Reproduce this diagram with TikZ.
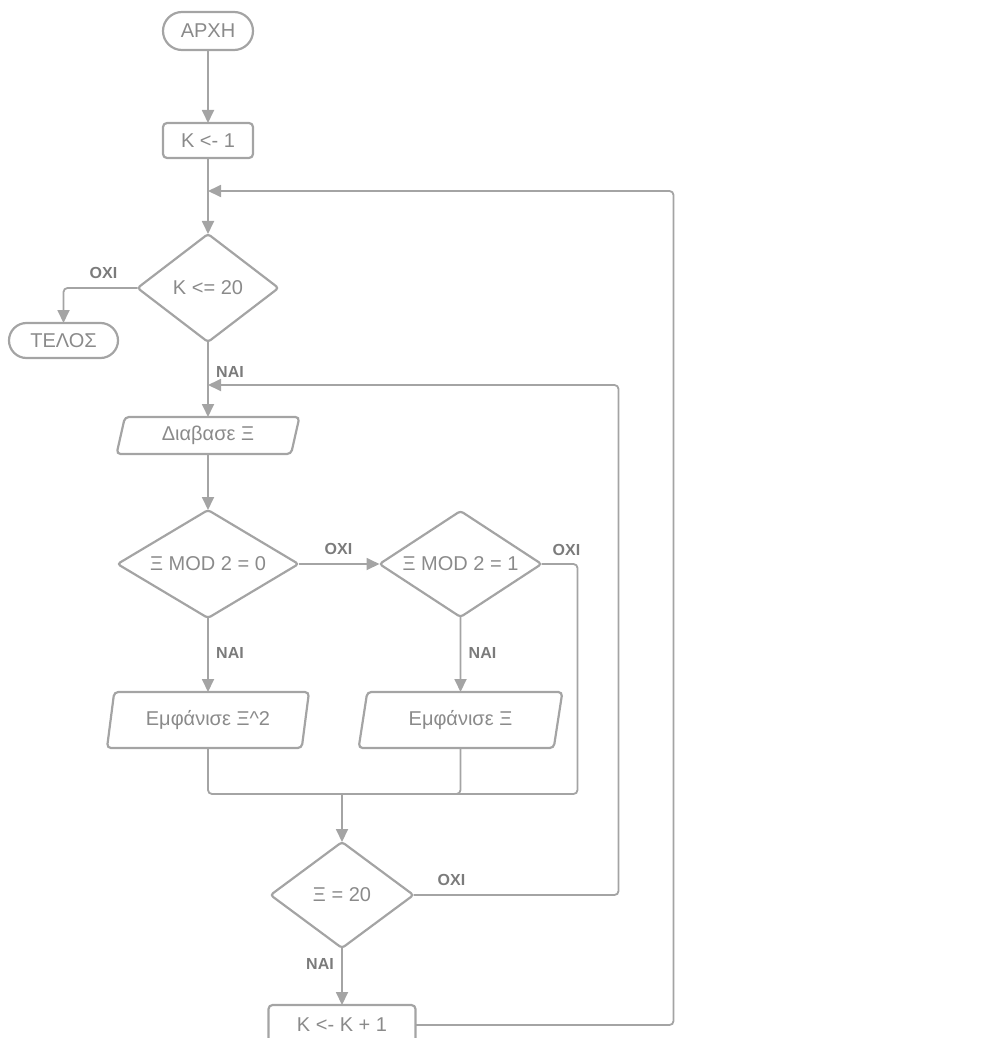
\documentclass[tikz,border=0pt]{standalone}
\usepackage{fontspec}
\setsansfont{Liberation Sans}
\usetikzlibrary{arrows.meta, positioning, shapes.geometric, shapes.misc}
\definecolor{flowline}{HTML}{A4A4A4}
\definecolor{flowtext}{HTML}{8A8A8A}
\definecolor{flowlabel}{HTML}{7B7B7B}

\begin{document}
\begin{tikzpicture}[
  font=\sffamily\fontsize{20}{24}\selectfont,
  every node/.style={align=center, text=flowtext},
  shapeline/.style={draw=flowline, line width=2.2pt, outer sep=0pt},
  terminal/.style={shapeline, rounded rectangle, minimum height=38pt, inner sep=0pt},
  block/.style={shapeline, rectangle, rounded corners=4pt, minimum height=35pt, inner sep=0pt},
  decision/.style={shapeline, diamond, aspect=1.7, rounded corners=3pt, inner sep=0pt},
  io/.style={shapeline, trapezium, trapezium left angle=76, trapezium right angle=104,
             trapezium stretches=true, rounded corners=4pt, inner sep=0pt},
  flowarrow/.style={draw=flowline, line width=1.8pt, rounded corners=4pt,
                    -{Triangle[length=13pt, width=12pt]}},
  link/.style={draw=flowline, line width=1.8pt, rounded corners=4pt},
  answer/.style={font=\sffamily\bfseries\fontsize{16}{19}\selectfont, text=flowlabel, inner sep=0pt},
]
\useasboundingbox (0,0) rectangle (989pt,-1038pt);

% start and counter
\node [terminal, minimum width=90pt] (start) at (208pt,-31pt) {ΑΡΧΗ};
\node [block, minimum width=90pt] (init) [below=73pt of start] {K <- 1};
\node [decision, minimum width=141pt, minimum height=108pt] (check) [below=76pt of init] {K <= 20};
\node [terminal, minimum width=109pt, minimum height=35pt] (finish) [below=35pt of check.west, xshift=-74pt] {ΤΕΛΟΣ};

% read and test the number
\node [io, minimum width=183pt, minimum height=37pt] (read) [below=75pt of check] {Διαβασε Ξ};
\node [decision, minimum width=181pt, minimum height=108pt] (even) [below=56pt of read] {Ξ MOD 2 = 0};
\node [decision, minimum width=162pt, minimum height=106pt] (odd) [right=81pt of even] {Ξ MOD 2 = 1};
\node [io, minimum width=202pt, minimum height=56pt] (square) [below=74pt of even] {Εμφάνισε Ξ\textasciicircum 2};
\node [io, minimum width=204pt, minimum height=56pt] (show) [below=75pt of odd] {Εμφάνισε Ξ};

% end of inner loop
\coordinate (merge) at ([xshift=134pt, yshift=-46pt]square.south);
\node [decision, minimum width=143pt, minimum height=106pt] (equal) [below=48pt of merge] {Ξ = 20};
\node [block, minimum width=147pt, minimum height=40pt] (inc) [below=57pt of equal] {K <- K + 1};

% where the loops come back
\coordinate (outer_in) at ([yshift=-33pt]init.south);
\coordinate (inner_in) at ([yshift=-43pt]check.south);

\draw [flowarrow] (start) -- (init);
\draw [flowarrow] (init) -- (check);
\draw [flowarrow] (check.west) -| (finish.north);
\draw [flowarrow] (check) -- (read);
\draw [flowarrow] (read) -- (even);
\draw [flowarrow] (even) -- (odd);
\draw [flowarrow] (even) -- (square);
\draw [flowarrow] (odd) -- (show);

\draw [link] (square.south) |- (merge);
\draw [link] (show.south) |- (merge);
\draw [link] (odd.east) -- ++(36pt,0) |- (merge);
\draw [flowarrow] (merge) -- (equal);
\draw [flowarrow] (equal) -- (inc);

\draw [flowarrow] (equal.east) -- ++(205pt,0) |- (inner_in);
\draw [flowarrow] (inc.east) -- ++(258pt,0) |- (outer_in);

% answers
\node [answer] (no_check) at ([xshift=-34pt, yshift=15pt]check.west) {ΟΧΙ};
\node [answer] (yes_check) at ([xshift=22pt, yshift=-30pt]check.south) {ΝΑΙ};
\node [answer] (no_even) at ([xshift=40pt, yshift=15pt]even.east) {ΟΧΙ};
\node [answer] (no_odd) at ([xshift=25pt, yshift=14pt]odd.east) {ΟΧΙ};
\node [answer] (yes_even) at ([xshift=22pt, yshift=-35pt]even.south) {ΝΑΙ};
\node [answer] (yes_odd) at ([xshift=22pt, yshift=-36pt]odd.south) {ΝΑΙ};
\node [answer] (no_equal) at ([xshift=38pt, yshift=15pt]equal.east) {ΟΧΙ};
\node [answer] (yes_equal) at ([xshift=-22pt, yshift=-16pt]equal.south) {ΝΑΙ};

\end{tikzpicture}
\end{document}
